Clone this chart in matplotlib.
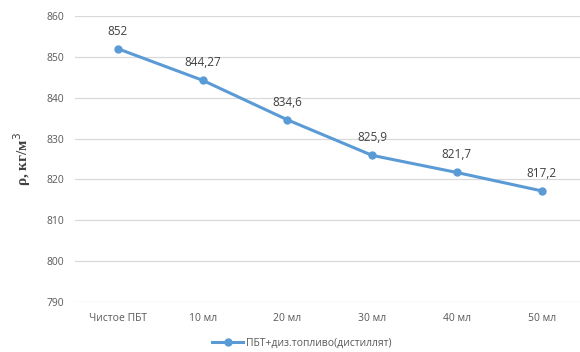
import matplotlib.pyplot as plt

categories = ["Чистое ПБТ", "10 мл", "20 мл", "30 мл", "40 мл", "50 мл"]
density = [852, 844.27, 834.6, 825.9, 821.7, 817.2]
labels = ["852", "844,27", "834,6", "825,9", "821,7", "817,2"]
series_name = "ПБТ+диз.топливо(дистиллят)"

plt.rcParams['font.family'] = ['Open Sans', 'DejaVu Sans']

fig = plt.figure(figsize=(5.8, 3.52), dpi=100)
ax = fig.add_axes([0.13, 0.142, 0.877, 0.8125])

x = list(range(len(categories)))
line, = ax.plot(x, density, color='#5B9BD5', lw=2.2, marker='o', ms=5,
                label=series_name, zorder=3)

# value labels above each point
for xi, yi, t in zip(x, density, labels):
    ax.annotate(t, (xi, yi), xytext=(0, 8), textcoords='offset points',
                ha='center', va='bottom', fontsize=8.5, color='#404040')

ax.set_xlim(-0.5, 5.5)
ax.set_ylim(790, 860)
ax.set_yticks(range(790, 861, 10))
ax.set_xticks(x)
ax.set_xticklabels(categories)
ax.grid(axis='y', color='#D9D9D9', lw=0.9)
ax.set_axisbelow(True)
for s in ax.spines.values():
    s.set_visible(False)
ax.tick_params(length=0, labelsize=7.5, colors='#595959', pad=8)

ax.set_ylabel("ρ, кг/м$^3$", family='Liberation Serif', fontweight='bold',
              fontsize=11, color='#404040', labelpad=10)

fig.legend(handles=[line], loc='center', bbox_to_anchor=(0.52, 0.025),
           frameon=False, fontsize=7.5, labelcolor='#595959',
           handlelength=3, handletextpad=0.2)

fig.savefig('out.png', dpi=100)
